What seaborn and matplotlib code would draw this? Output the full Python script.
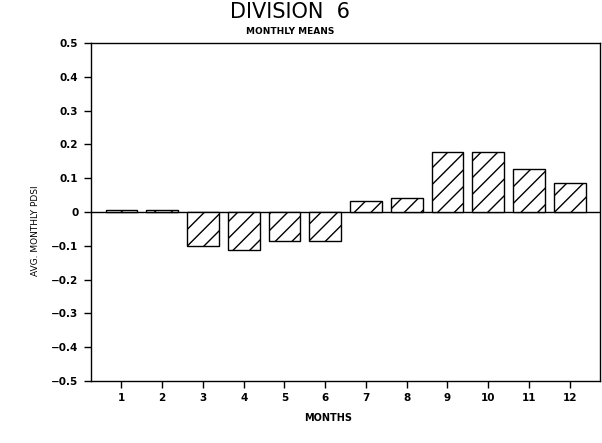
import numpy as np
import pandas as pd
import seaborn as sns
from matplotlib import pyplot as plt

sns.set_style('ticks')
plt.rcParams['hatch.linewidth'] = 1.0
plt.rcParams['text.color'] = 'black'

# values
months = [1, 2, 3, 4, 5, 6, 7, 8, 9, 10, 11, 12]
pdsi = [0.005, 0.005, -0.10, -0.112, -0.086, -0.086, 0.032, 0.042, 0.177, 0.177, 0.127, 0.085]
yticks = [-0.5, -0.4, -0.3, -0.2, -0.1, 0, 0.1, 0.2, 0.3, 0.4, 0.5]
ytick_labels = ['\u22120.5', '\u22120.4', '\u22120.3', '\u22120.2', '\u22120.1', '0',
                '0.1', '0.2', '0.3', '0.4', '0.5']

df = pd.DataFrame({'month': months, 'pdsi': pdsi})

fig = plt.figure(figsize=(6.02, 4.43), dpi=100)
ax = fig.add_axes([0.151, 0.14, 0.846, 0.763])

sns.barplot(data=df, x='month', y='pdsi', color='white', edgecolor='black',
            linewidth=1.0, width=0.78, saturation=1, ax=ax)
for p in ax.patches:
    p.set_hatch('//')
    p.set_facecolor('white')

ax.axhline(0, color='black', lw=1.0, zorder=0.5)
ax.set_xlim(-0.75, 11.75)
ax.set_ylim(-0.5, 0.5)
ax.set_yticks(yticks)
ax.set_yticklabels(ytick_labels)
ax.set_xticks(range(len(months)))
ax.set_xticklabels([str(m) for m in months])
ax.tick_params(axis='both', direction='out', length=5, width=1, color='black',
               labelcolor='black', labelsize=7.5, pad=4)
for lab in ax.get_xticklabels() + ax.get_yticklabels():
    lab.set_fontweight('bold')
for s in ax.spines.values():
    s.set_visible(True)
    s.set_color('black')
    s.set_linewidth(1.0)
ax.set_xlabel('')
ax.set_ylabel('')

fig.text(290/602, 1 - 12/443, 'DIVISION  6', ha='center', va='center',
         fontsize=15, color='black')
fig.text(290/602, 1 - 31/443, 'MONTHLY MEANS', ha='center', va='center',
         fontsize=6.5, fontweight='bold', color='black')
fig.text(328/602, 1 - 418/443, 'MONTHS', ha='center', va='center',
         fontsize=7, fontweight='bold', color='black')
fig.text(36/602, 1 - 231/443, 'AVG. MONTHLY PDSI', ha='center', va='center',
         rotation=90, fontsize=6.5, color='black')

fig.savefig('out.png', dpi=100)
